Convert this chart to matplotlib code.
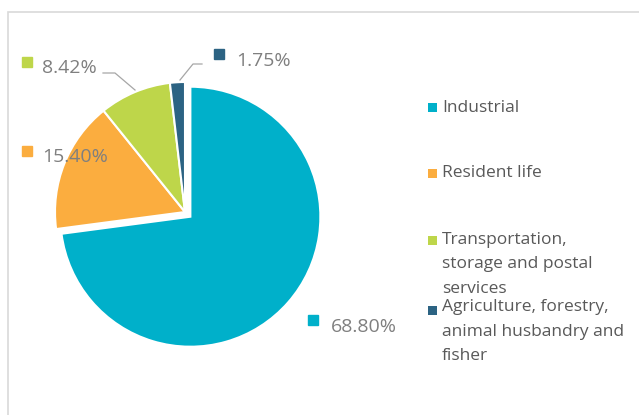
import matplotlib
matplotlib.use("Agg")
import matplotlib.pyplot as plt
from matplotlib.patches import Rectangle

# data
categories = ["Industrial", "Resident life",
              "Transportation, storage and postal services",
              "Agriculture, forestry, animal husbandry and fisher"]
legend_labels = ["Industrial", "Resident life",
                 "Transportation,\nstorage and postal\nservices",
                 "Agriculture, forestry,\nanimal husbandry and\nfisher"]
shares = [68.80, 15.40, 8.42, 1.75]
pct_labels = ["68.80%", "15.40%", "8.42%", "1.75%"]
colors = ["#00B0CA", "#FBAD3F", "#BED64A", "#2C6383"]

plt.rcParams["font.family"] = ["Open Sans", "DejaVu Sans"]

W, H = 639, 415
fig = plt.figure(figsize=(W / 100, H / 100), dpi=100)

# light chart-area border (left and top visible)
fig.add_artist(Rectangle((7.5 / W, -0.1), 1.2, (H - 12.5) / H + 0.1,
                         transform=fig.transFigure, fill=False,
                         edgecolor="#d9d9d9", lw=1.2))

# pie axes: centre and radius in pixels
cx, cy, r, lim = 185, 212, 130, 1.35
ax = fig.add_axes([(cx - r * lim) / W, (H - cy - r * lim) / H,
                   2 * r * lim / W, 2 * r * lim / H])
ax.pie(shares, colors=colors, startangle=90, counterclock=False,
       explode=[0.055, 0, 0, 0],
       wedgeprops=dict(edgecolor="white", linewidth=1.5))
ax.set_xlim(-lim, lim)
ax.set_ylim(-lim, lim)
ax.axis("off")


def to_data(px, py):
    return (px - cx) / r, (cy - py) / r


# data labels: marker centre, text left/baseline (pixels)
marker_pos = [(313, 320), (27, 151), (27, 62), (219, 54)]
text_pos = [(331, 332), (42, 162), (42, 73), (236, 66)]
for lab, col, mp, tp in zip(pct_labels, colors, marker_pos, text_pos):
    mx, my = to_data(*mp)
    ax.plot(mx, my, marker="s", markersize=7.3, color=col,
            linestyle="none", clip_on=False)
    tx, ty = to_data(*tp)
    ax.text(tx, ty, lab, ha="left", va="baseline", fontsize=14,
            color="#7f7f7f", clip_on=False)

# leader lines
for pts in [[(103, 73), (115, 73), (135, 90)],
            [(202, 64), (193, 64), (180, 80)]]:
    xs, ys = zip(*[to_data(*p) for p in pts])
    ax.plot(xs, ys, color="#a6a6a6", lw=0.9, clip_on=False)

# legend (manual layout to follow the original spacing)
leg_marker_y = [107.5, 174, 241, 310]
leg_baseline = [112, 177, 244, 311]
line_gap = 24.5
for lab, col, my, by in zip(legend_labels, colors, leg_marker_y, leg_baseline):
    fig.add_artist(Rectangle((428 / W, (H - my - 4.5) / H), 9 / W, 9 / H,
                             transform=fig.transFigure, color=col, lw=0))
    for i, line in enumerate(lab.split("\n")):
        fig.text(442 / W, (H - by - i * line_gap) / H, line, ha="left",
                 va="baseline", fontsize=12.5, color="#595959")

fig.savefig("out.png", dpi=100)
